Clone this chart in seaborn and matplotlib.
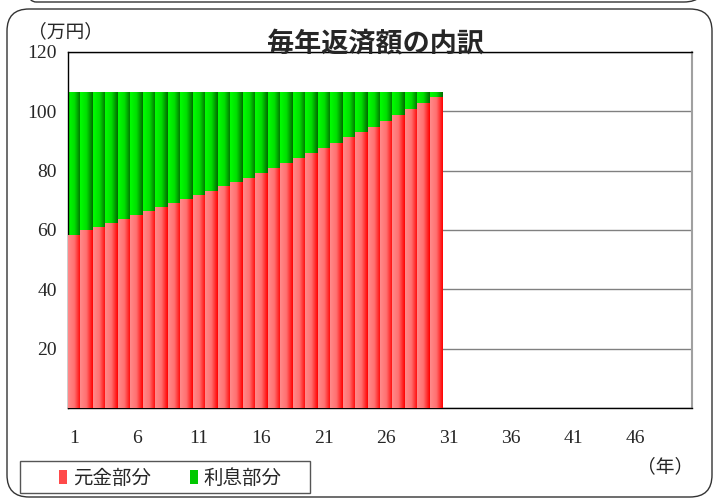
"""毎年返済額の内訳 - stacked yearly repayment bars (principal / interest)."""

import matplotlib
matplotlib.use("Agg")
import matplotlib.pyplot as plt
import numpy as np
import pandas as pd
import seaborn as sns
from matplotlib.colors import LinearSegmentedColormap
from matplotlib.patches import FancyBboxPatch, Patch, Rectangle

# data (万円)
years = list(range(1, 31))
principal = [58.3, 59.7, 60.8, 62.2, 63.5, 64.9, 66.2, 67.6, 68.9, 70.3,
             71.6, 73.0, 74.5, 75.9, 77.4, 78.9, 80.6, 82.4, 84.0, 85.8,
             87.4, 89.2, 91.2, 92.7, 94.7, 96.6, 98.6, 100.6, 102.6, 104.7]
interest = [47.9, 46.5, 45.4, 44.0, 42.7, 41.3, 40.0, 38.6, 37.3, 35.9,
            34.6, 33.2, 31.7, 30.3, 28.8, 27.3, 25.6, 23.8, 22.2, 20.4,
            18.8, 17.0, 15.0, 13.5, 11.5, 9.6, 7.6, 5.6, 3.6, 1.5]
axis_years = list(range(1, 51))
tick_years = list(range(1, 51, 5))
y_ticks = [0, 20, 40, 60, 80, 100, 120]

JP = ["Noto Sans CJK JP", "DejaVu Sans"]
NUM = ["Liberation Serif", "DejaVu Serif"]

sns.set_style("white")
plt.rcParams["font.family"] = JP

df = pd.DataFrame({"year": years, "principal": principal, "interest": interest})
df["total"] = df["principal"] + df["interest"]

fig = plt.figure(figsize=(7.25, 5.01), dpi=100)
ax = fig.add_axes([68 / 725, 1 - 408 / 501, (692 - 68) / 725, (408 - 52) / 501])

sns.barplot(data=df, x="year", y="total", order=axis_years, color="#00cc00",
            width=1.0, linewidth=0, saturation=1, ax=ax, zorder=2)
n_green = len(ax.patches)
sns.barplot(data=df, x="year", y="principal", order=axis_years, color="#ff4040",
            width=1.0, linewidth=0, saturation=1, ax=ax, zorder=3)

red_cmap = LinearSegmentedColormap.from_list("red", ["#ff8a8a", "#ff7070", "#ff0000"])
green_cmap = LinearSegmentedColormap.from_list("green", ["#00ff00", "#00e000", "#006a00"])
grad = np.linspace(0, 1, 64).reshape(1, -1)

# paint every seaborn bar with a left-to-right gradient
for i, p in enumerate(list(ax.patches)):
    h = p.get_height()
    if not np.isfinite(h) or h == 0:
        continue
    x0, y0, w = p.get_x(), p.get_y(), p.get_width()
    cmap = green_cmap if i < n_green else red_cmap
    z = 2 if i < n_green else 3
    ax.imshow(grad, cmap=cmap, extent=[x0, x0 + w, y0, y0 + h],
              aspect="auto", interpolation="bilinear", zorder=z)
    p.set_visible(False)

ax.set_xlim(-0.5, len(axis_years) - 0.5)
ax.set_ylim(0, 120)
ax.set_yticks(y_ticks)
ax.set_yticklabels(["" if v == 0 else str(v) for v in y_ticks], family=NUM, fontsize=14)
ax.set_xticks([axis_years.index(t) for t in tick_years])
ax.set_xticklabels([str(t) for t in tick_years], family=NUM, fontsize=14)
ax.set_xticks(np.arange(-0.5, len(axis_years), 5), minor=True)
ax.tick_params(axis="x", which="major", length=0, pad=16)
ax.tick_params(axis="x", which="minor", length=5, color="#555555", direction="out")
ax.tick_params(axis="y", length=5, color="#555555", direction="out", pad=3)
ax.set_xlabel("")
ax.set_ylabel("")

ax.set_axisbelow(True)
ax.yaxis.grid(True, color="#808080", linewidth=1)
ax.xaxis.grid(False)
for side in ["left", "bottom", "top"]:
    ax.spines[side].set_color("black")
    ax.spines[side].set_linewidth(1)
ax.spines["right"].set_color("#a0a0a0")
ax.spines["right"].set_linewidth(1.5)

fig.text(376 / 725, 1 - 43 / 501, "毎年返済額の内訳", ha="center", va="center",
         fontsize=19.5, fontweight="bold", family=JP)
fig.text(28 / 725, 1 - 32 / 501, "（万円）", ha="left", va="center", fontsize=13.5, family=JP)
fig.text(693 / 725, 1 - 467 / 501, "（年）", ha="right", va="center", fontsize=13.5, family=JP)

# rounded panel frames (current panel plus bottom edge of the one above)
inch = fig.dpi_scale_trans
fig.patches.append(FancyBboxPatch((7 / 100, 4 / 100), 705 / 100, 488 / 100,
                                  boxstyle="round,pad=0,rounding_size=0.22",
                                  transform=inch, fill=False, edgecolor="#333333",
                                  linewidth=1, zorder=0))
fig.patches.append(FancyBboxPatch((14 / 100, 4.99), 692 / 100, 1.5,
                                  boxstyle="round,pad=0,rounding_size=0.22",
                                  transform=inch, fill=False, edgecolor="#333333",
                                  linewidth=1, zorder=0))

# legend: box drawn separately, entries placed inside it
fig.patches.append(Rectangle((20 / 100, (501 - 493) / 100), 290 / 100, 32 / 100,
                             transform=inch, fill=True, facecolor="white",
                             edgecolor="#555555", linewidth=1, zorder=1))
handles = [Patch(facecolor="#ff4a4a", edgecolor="none", label="元金部分"),
           Patch(facecolor="#00c800", edgecolor="none", label="利息部分")]
fig.legend(handles=handles, loc="center left", bbox_to_anchor=(59 / 725, 1 - 478 / 501),
           ncol=2, frameon=False, prop={"family": JP, "size": 14},
           handlelength=0.42, handleheight=0.75, handletextpad=0.3,
           columnspacing=2.0, borderpad=0, borderaxespad=0)

fig.savefig("out.png", dpi=100)
